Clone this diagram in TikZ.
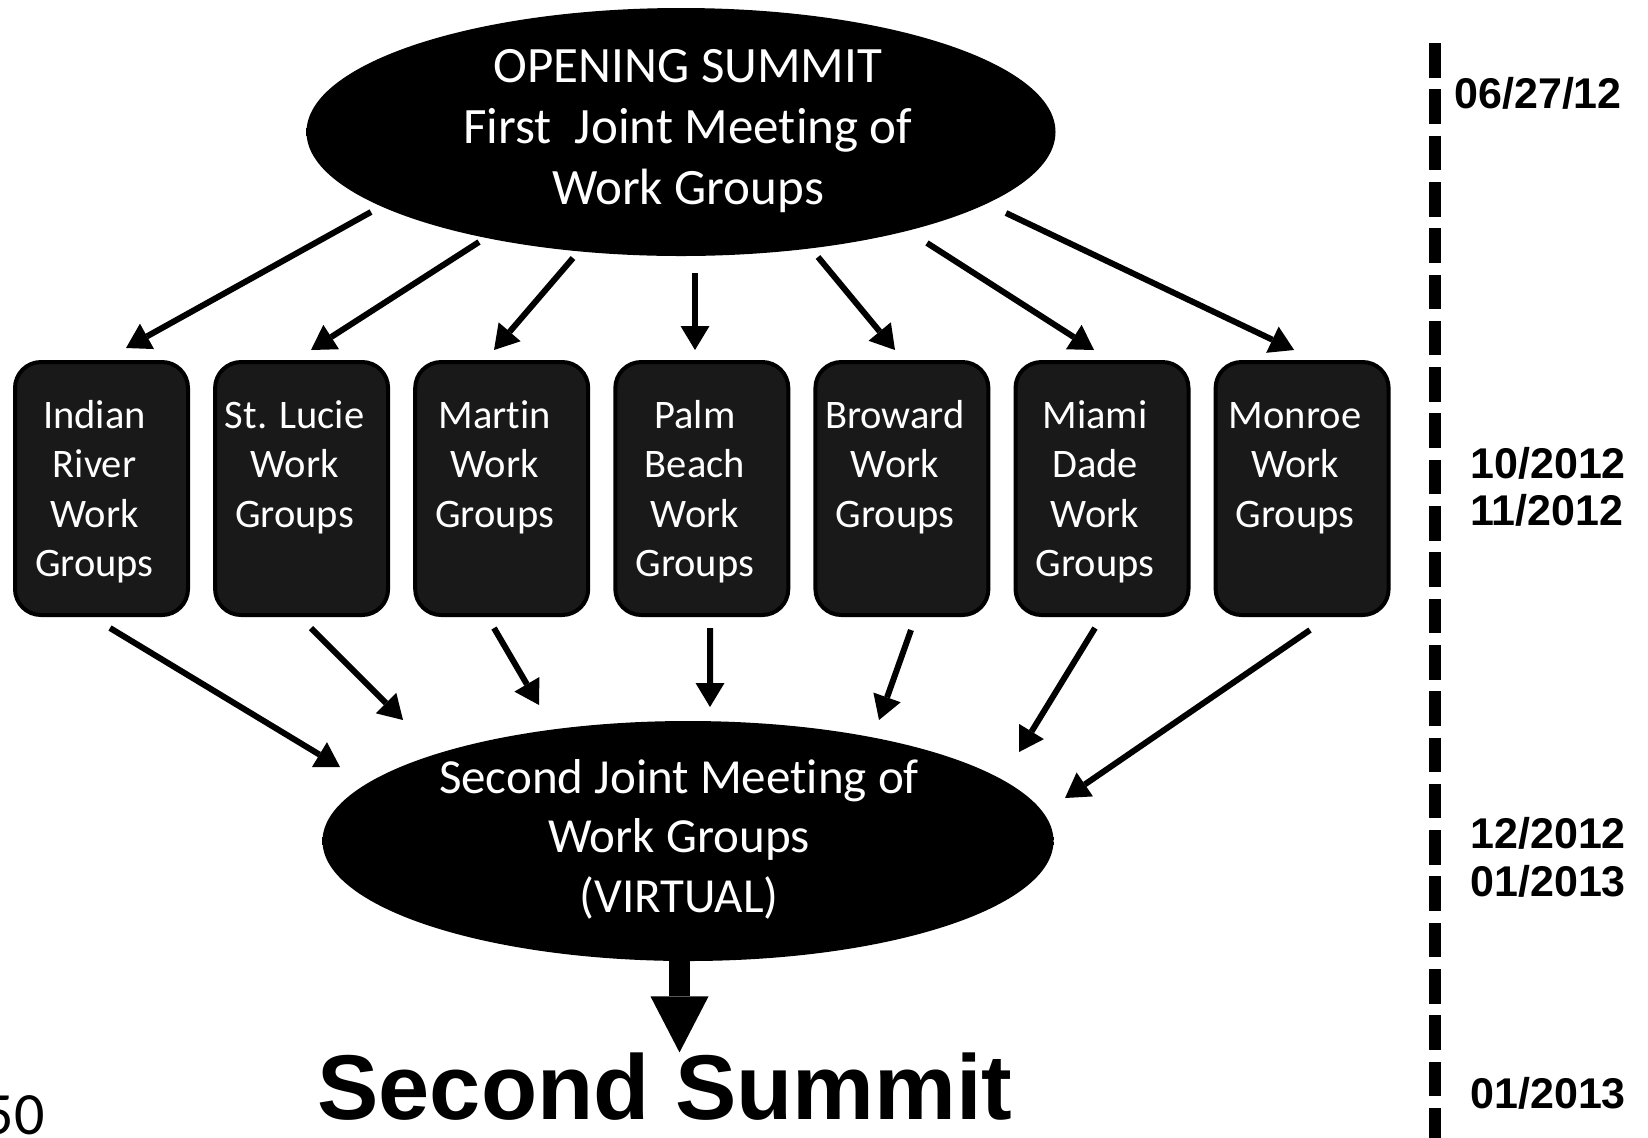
\documentclass[tikz,border=0pt]{standalone}
\usepackage{fontspec}
\setmainfont{Carlito}[Ligatures={NoCommon,NoContextual}]
\newfontfamily\arialfont{Liberation Sans}
\usetikzlibrary{shapes.geometric,arrows.meta,calc}
\pgfdeclareradialshading{ellrim}{\pgfpoint{0bp}{0bp}}{color(0bp)=(black); color(44bp)=(black); color(50bp)=(black!45)}
\begin{document}
\begin{tikzpicture}[x=0.5pt,y=-0.5pt,
  ell/.style={ellipse, shading=ellrim, draw=none, inner sep=0pt},
  wbox/.style={rectangle, rounded corners=13pt, fill=black!90, draw=black, line width=2pt,
    minimum width=86.5pt, minimum height=126.5pt, inner sep=0pt},
  wtext/.style={text=white, align=center, anchor=north, inner sep=0pt,
    font=\fontsize{20.25}{24.7}\selectfont},
  etext/.style={text=white, align=center, anchor=north, inner sep=0pt},
  arr/.style={line width=3pt, -{Triangle[length=12pt,width=14.5pt,line width=0pt]}},
  bigarr/.style={line width=10.5pt, -{Triangle[length=28pt,width=29pt,line width=0pt]}},
  datelbl/.style={anchor=base west, inner sep=0pt, font=\arialfont\bfseries\fontsize{21.5}{24}\selectfont}
]
\useasboundingbox (0,0) rectangle (1648,1137);
\fill[white] (0,0) rectangle (1648,1137);

% top ellipse
\node[ell, minimum width=374.5pt, minimum height=124pt] (top) at (681,132) {};
\node[etext, font=\fontsize{25.5}{30.5}\selectfont] (toptext) at (688,39.3)
  {\strut OPENING SUMMIT\\First\ \ Joint Meeting of\\Work Groups};

% boxes
\node[wbox] (b1) at (101.5,488.5) {};
\node[wbox] (b2) at (301.6,488.5) {};
\node[wbox] (b3) at (501.7,488.5) {};
\node[wbox] (b4) at (701.8,488.5) {};
\node[wbox] (b5) at (901.9,488.5) {};
\node[wbox] (b6) at (1102.0,488.5) {};
\node[wbox] (b7) at (1302.1,488.5) {};
\node[wtext] (t1) at (94.5,393.4) {\strut Indian\\River\\Work\\Groups};
\node[wtext] (t2) at (294.6,393.4) {\strut St. Lucie\\Work\\Groups};
\node[wtext] (t3) at (494.7,393.4) {\strut Martin\\Work\\Groups};
\node[wtext] (t4) at (694.8,393.4) {\strut Palm\\Beach\\Work\\Groups};
\node[wtext] (t5) at (894.9,393.4) {\strut Broward\\Work\\Groups};
\node[wtext] (t6) at (1095.0,393.4) {\strut Miami\\Dade\\Work\\Groups};
\node[wtext] (t7) at (1295.1,393.4) {\strut Monroe\\Work\\Groups};

% second ellipse
\node[ell, minimum width=365.5pt, minimum height=120pt] (mid) at (688,841) {};
\node[etext, font=\fontsize{24.5}{29.75}\selectfont] (midtext) at (679,751.4)
  {\strut Second Joint Meeting of\\Work Groups\\(VIRTUAL)};

% arrows from top ellipse to boxes
\draw[arr] ($(top.center)+(-310,80)$) -- ($(b1.north)+(24.5,-12)$);
\draw[arr] ($(top.center)+(-202,110)$) -- ($(b2.north)+(9.4,-10)$);
\draw[arr] ($(top.center)+(-108,126)$) -- ($(b3.north)+(-7.7,-10)$);
\draw[arr] ($(top.center)+(14,141)$) -- ($(b4.north)+(-6.8,-10)$);
\draw[arr] ($(top.center)+(137,125)$) -- ($(b5.north)+(-6.9,-10)$);
\draw[arr] ($(top.center)+(246,111)$) -- ($(b6.north)+(-8,-10)$);
\draw[arr] ($(top.center)+(325,81)$) -- ($(b7.north)+(-8,-10)$);

% arrows from boxes to second ellipse
\draw[arr] ($(b1.south)+(8.5,11)$) -- ($(mid.center)+(-348,-74)$);
\draw[arr] ($(b2.south)+(9.4,11)$) -- ($(mid.center)+(-285,-121)$);
\draw[arr] ($(b3.south)+(-7.7,11)$) -- ($(mid.center)+(-149,-136)$);
\draw[arr] ($(b4.south)+(8.2,11)$) -- ($(mid.center)+(22,-134)$);
\draw[arr] ($(b5.south)+(9.1,13)$) -- ($(mid.center)+(191,-121)$);
\draw[arr] ($(b6.south)+(-7,11)$) -- ($(mid.center)+(331,-89)$);
\draw[arr] ($(b7.south)+(7.9,13)$) -- ($(mid.center)+(377,-43)$);

% big arrow to second summit
\node[anchor=base, inner sep=0pt, font=\arialfont\bfseries\fontsize{46}{50}\selectfont] (summit) at (665,1119) {Second Summit};
\draw[bigarr] ($(mid.south)+(-8.5,-8)$) -- ($(mid.south)+(-8.5,91)$);

% page number
\node[anchor=base east, inner sep=0pt, font=\fontsize{30}{36}\selectfont] (pg) at (45,1134) {50};

% timeline
\coordinate (tltop) at (1435,43);
\coordinate (tlbot) at (1435,1140);
\draw[line width=6pt, dash pattern=on 17.3pt off 5.85pt] (tltop) -- (tlbot);
\node[datelbl] (d1) at (1454,108) {06/27/12};
\node[datelbl] (d2) at (1470,478) {10/2012};
\node[datelbl] (d3) at (1470,525) {11/2012};
\node[datelbl] (d4) at (1470,848) {12/2012};
\node[datelbl] (d5) at (1470,896) {01/2013};
\node[datelbl] (d6) at (1470,1108) {01/2013};
\end{tikzpicture}
\end{document}
